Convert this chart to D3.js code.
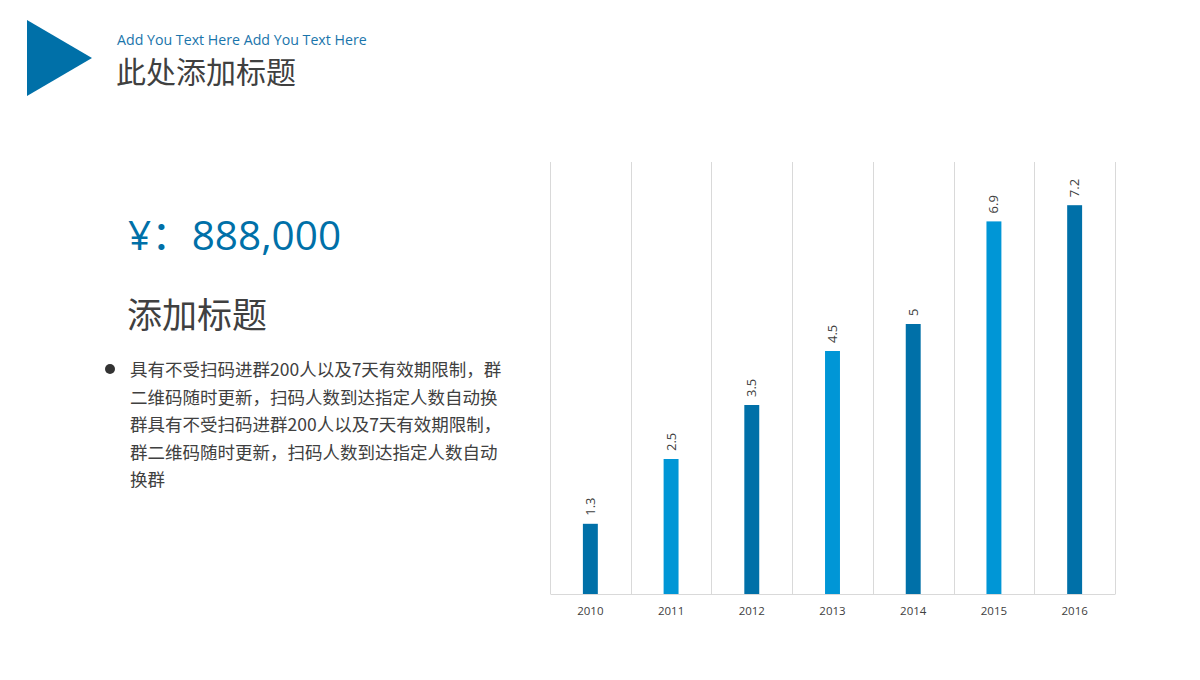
<!DOCTYPE html>
<html><head><meta charset="utf-8">
<script src="https://cdn.jsdelivr.net/npm/d3@7/dist/d3.min.js"></script>
<style>
html,body{margin:0;padding:0;background:#fff;}
svg{display:block;}
</style></head>
<body>
<svg id="c" width="1200" height="680"></svg>
<script>
const categories = ["2010","2011","2012","2013","2014","2015","2016"];
const values = [1.3, 2.5, 3.5, 4.5, 5, 6.9, 7.2];
const barColors = ["#0070a8","#0096d6"];
const subtitle = "Add You Text Here Add You Text Here";
const title = "此处添加标题";
const amount = "¥：888,000";
const heading = "添加标题";
const paragraph = [
  "具有不受扫码进群200人以及7天有效期限制，群",
  "二维码随时更新，扫码人数到达指定人数自动换",
  "群具有不受扫码进群200人以及7天有效期限制，",
  "群二维码随时更新，扫码人数到达指定人数自动",
  "换群"
];

const svg = d3.select("#c");
const cjk = "'Noto Sans CJK SC','Noto Sans',sans-serif";
const lat = "'Open Sans','Noto Sans CJK SC',sans-serif";

// header
svg.append("path").attr("d","M27,20 L92,58 L27,96 Z").attr("fill","#0070a8");
svg.append("text").attr("x",117).attr("y",45).text(subtitle)
  .attr("font-family",lat).attr("font-size",14.2).attr("fill","#1a75ab");
svg.append("text").attr("x",116).attr("y",83).text(title)
  .attr("font-family",cjk).attr("font-size",30).attr("fill","#404040");

// left text block
svg.append("text").attr("x",128).attr("y",250).text(amount)
  .attr("font-family",lat).attr("font-size",40.5).attr("fill","#0070a8");
svg.append("text").attr("x",127).attr("y",328).text(heading)
  .attr("font-family",cjk).attr("font-size",35).attr("fill","#404040");
svg.append("circle").attr("cx",110).attr("cy",369).attr("r",5).attr("fill","#333");
svg.append("g").selectAll("text").data(paragraph).join("text")
  .attr("x",130).attr("y",(d,i)=>376+i*27.6).text(d=>d)
  .attr("font-family",cjk).attr("font-size",17.5).attr("fill","#404040");

// chart
const L=550, R=1115, T=162, B=594;
const x = d3.scaleBand().domain(categories).range([L,R]).paddingInner(0.815).paddingOuter(0.4075);
const y = d3.scaleLinear().domain([0,8]).range([B,T]);
const step = x.step();

const g = svg.append("g");
// vertical gridlines at band boundaries
const bounds = categories.map((c,i)=>L+i*step);
bounds.push(R);
g.selectAll("line.grid").data(bounds).join("line").attr("class","grid")
  .attr("x1",d=>Math.round(d)+0.5).attr("x2",d=>Math.round(d)+0.5)
  .attr("y1",T).attr("y2",B).attr("stroke","#d9d9d9").attr("stroke-width",1);

// bars
g.selectAll("rect").data(values).join("rect")
  .attr("x",(d,i)=>x(categories[i])).attr("width",x.bandwidth())
  .attr("y",d=>y(d)).attr("height",d=>B-y(d))
  .attr("fill",(d,i)=>barColors[i%2]);

// baseline axis
const xAxis = d3.axisBottom(x).tickSize(0).tickPadding(13);
const ax = g.append("g").attr("transform",`translate(0,${B})`).call(xAxis);
ax.select(".domain").attr("stroke","#d9d9d9");
ax.selectAll("text").attr("font-family",lat).attr("font-size",11.5).attr("fill","#404040");

// value labels (rotated)
g.selectAll("text.val").data(values).join("text").attr("class","val")
  .attr("transform",(d,i)=>`translate(${x(categories[i])+x.bandwidth()/2+4.5},${y(d)-8}) rotate(-90)`)
  .attr("text-anchor","start").text(d=>d)
  .attr("font-family",lat).attr("font-size",13).attr("fill","#404040");
</script>
</body></html>
